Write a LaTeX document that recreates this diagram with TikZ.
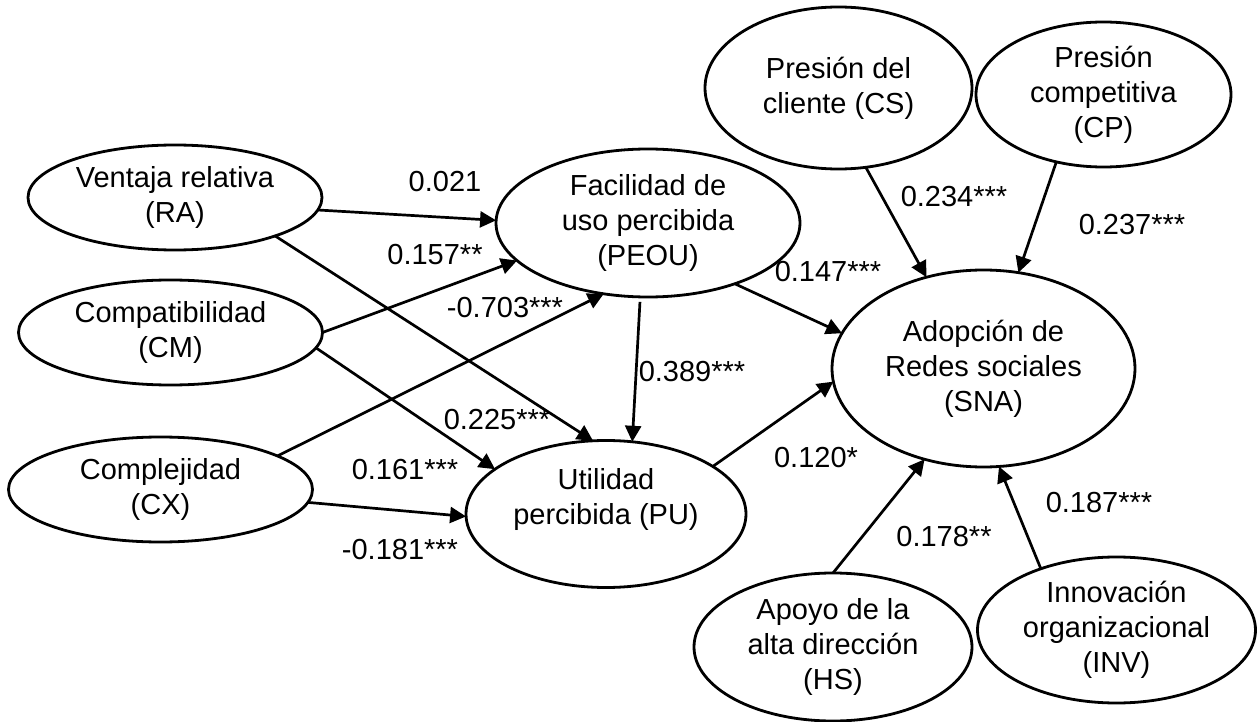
\documentclass[tikz,border=0pt]{standalone}
\usepackage{fontspec}
\setmainfont{Liberation Sans}
\usetikzlibrary{shapes.geometric,arrows.meta}
\begin{document}
\begin{tikzpicture}[x=0.5pt,y=-0.5pt,
  construct/.style={draw=black, line width=1.4pt, ellipse, inner sep=0pt,
    outer sep=0pt, align=center, font=\fontsize{14.5pt}{17.5pt}\selectfont},
  link/.style={line width=1.35pt, -{Triangle[length=8pt,width=8pt]}},
  coef/.style={font=\fontsize{14.5pt}{17.5pt}\selectfont, inner sep=0pt}]

\useasboundingbox[fill=white] (0,0) rectangle (1260,722);

% constructs
\node[construct, minimum width=147pt, minimum height=52.5pt] (ra) at (175,197.5) {Ventaja relativa\\(RA)};
\node[construct, minimum width=152pt, minimum height=52.5pt] (cm) at (170.5,332.5) {Compatibilidad\\(CM)};
\node[construct, minimum width=152pt, minimum height=52.5pt] (cx) at (160.5,489.5) {Complejidad\\(CX)};
\node[construct, minimum width=152pt, minimum height=74pt] (peou) at (648,223) {Facilidad de\\uso percibida\\(PEOU)};
\node[construct, minimum width=140pt, minimum height=73.5pt] (pu) at (606,514) {Utilidad\\percibida (PU)\\{}};
\node[construct, minimum width=151.5pt, minimum height=98.5pt] (sna) at (983.5,368.5) {Adopción de\\Redes sociales\\(SNA)};
\node[construct, minimum width=133.5pt, minimum height=81pt] (cs) at (838.5,88) {Presión del\\cliente (CS)};
\node[construct, minimum width=127.5pt, minimum height=72.5pt] (cp) at (1103.5,94.5) {Presión\\competitiva\\(CP)};
\node[construct, minimum width=139pt, minimum height=74pt] (hs) at (833,647) {Apoyo de la\\alta dirección\\(HS)};
\node[construct, minimum width=139pt, minimum height=73pt] (inv) at (1116.5,630) {Innovación\\organizacional\\(INV)};

% paths
\draw[link] (ra.-5.8) -- (peou.179);
\draw[link] (ra.-21.2) -- (pu.100);
\draw[link] (cm.0) -- (peou.196);
\draw[link] (cm.-6) -- (pu.158.6);
\draw[link] (cx.16.9) -- (peou.238);
\draw[link] (cx.-5) -- (pu.181.6);
\draw[link, shorten <=2.5pt] (peou.264) -- (pu.70.4);
\draw[link] (peou.-35.5) -- (sna.166);
\draw[link] (pu.24.6) -- (sna.185.7);
\draw[link] (cs.-71.6) -- (sna.122.5);
\draw[link] (cp.235) -- (sna.70.5);
\draw[link] (hs.90) -- (sna.237.3);
\draw[link] (inv.141) -- (sna.-81.4);

% path coefficients
\node[coef] (c1) at (445,182) {0.021};
\node[coef] (c2) at (497,420) {0.225***};
\node[coef] (c3) at (435,255) {0.157**};
\node[coef] (c4) at (405,470) {0.161***};
\node[coef] (c5) at (505,308) {-0.703***};
\node[coef] (c6) at (400,550) {-0.181***};
\node[coef] (c7) at (692,372) {0.389***};
\node[coef] (c8) at (828,272) {0.147***};
\node[coef] (c9) at (816,458) {0.120*};
\node[coef] (c10) at (954,197) {0.234***};
\node[coef] (c11) at (1132,225) {0.237***};
\node[coef] (c12) at (944,537) {0.178**};
\node[coef] (c13) at (1099,503) {0.187***};
\end{tikzpicture}
\end{document}
